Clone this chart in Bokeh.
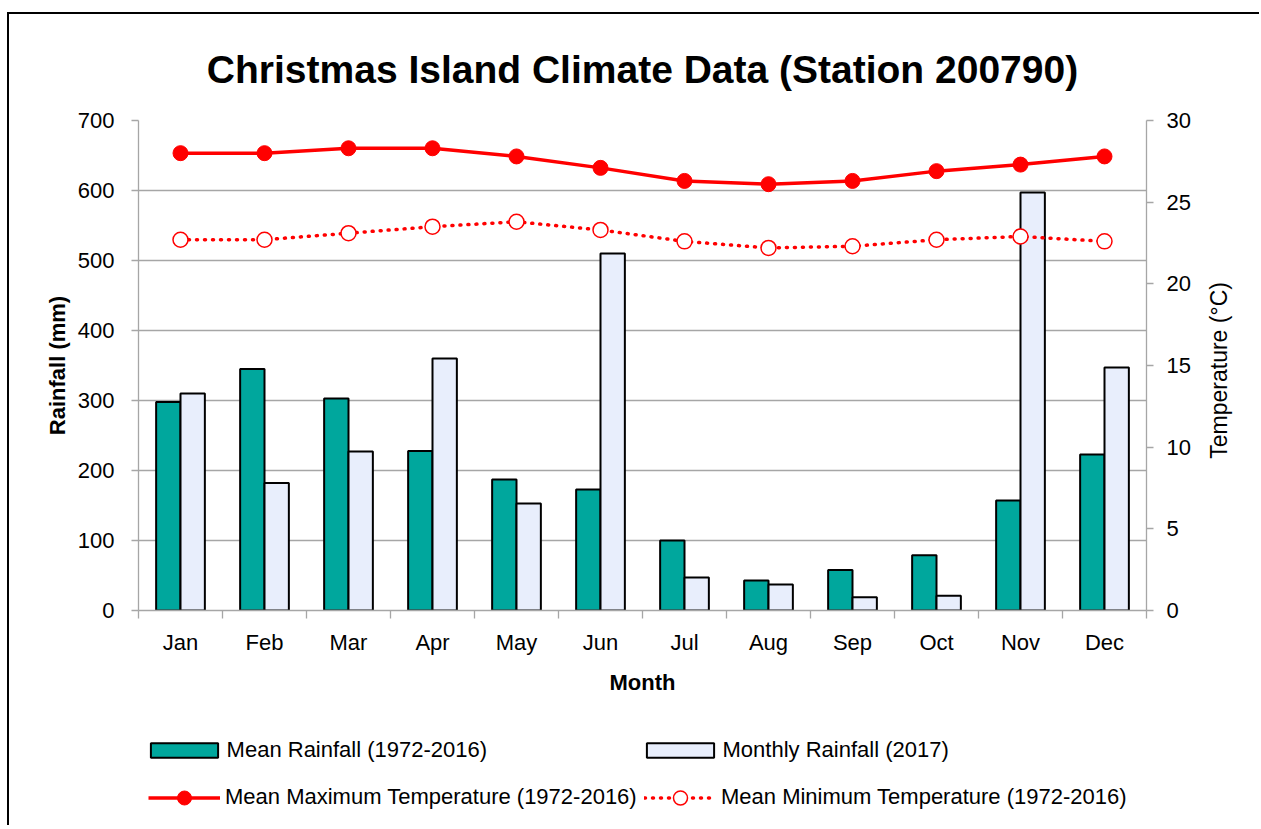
import math
from bokeh.plotting import figure
from bokeh.layouts import column, row
from bokeh.models import (Range1d, LinearAxis, FixedTicker, Legend, LegendItem, Label, ColumnDataSource)
from bokeh.embed import file_html
from bokeh.resources import INLINE

months = ["Jan", "Feb", "Mar", "Apr", "May", "Jun", "Jul", "Aug", "Sep", "Oct", "Nov", "Dec"]
mean_rain = [298, 345, 303, 228, 187, 173, 100, 43, 58, 79, 157, 223]
rain_2017 = [310, 182, 227, 360, 153, 510, 47, 37, 19, 21, 597, 347]
mean_max = [28.0, 28.0, 28.3, 28.3, 27.8, 27.1, 26.3, 26.1, 26.3, 26.9, 27.3, 27.8]
mean_min = [22.7, 22.7, 23.1, 23.5, 23.8, 23.3, 22.6, 22.2, 22.3, 22.7, 22.9, 22.6]
rain_ticks = [0, 100, 200, 300, 400, 500, 600, 700]
temp_ticks = [0, 5, 10, 15, 20, 25, 30]

FONT = "Liberation Sans"
GRID = "#a6a6a6"
TEAL = "#00A79D"
LIGHT = "#E8EEFC"
RED = "#FF0000"

xs = list(range(1, 13))
bw = 0.29
src = ColumnDataSource(dict(
    x=xs,
    x_mean=[x - bw / 2 for x in xs],
    x_2017=[x + bw / 2 for x in xs],
    mean_rain=mean_rain,
    rain_2017=rain_2017,
    mean_max=mean_max,
    mean_min=mean_min,
))

W = 1250
WR = 63
TOP, BOT = 106, 95
p = figure(width=W - WR, height=691, output_backend="svg", toolbar_location=None,
           x_range=Range1d(0.5, 12.5), y_range=Range1d(0, 700),
           min_border_left=129, min_border_right=W - WR - 129 - 1008,
           min_border_top=TOP, min_border_bottom=BOT,
           title="Christmas Island Climate Data (Station 200790)")
p.outline_line_color = None
p.background_fill_color = "white"
p.border_fill_color = "white"
p.title.align = "center"
p.title.text_font = FONT
p.title.text_font_size = "39px"
p.title.text_font_style = "bold"
p.title.text_color = "black"
p.title.standoff = 60

p.extra_y_ranges = {"temp": Range1d(0, 30)}

# grid
p.xgrid.visible = False
p.ygrid.grid_line_color = GRID
p.ygrid.grid_line_width = 1.3
p.ygrid.ticker = FixedTicker(ticks=rain_ticks)

# x axis
xax = p.xaxis[0]
xax.ticker = FixedTicker(ticks=xs, minor_ticks=[x + 0.5 for x in range(0, 13)])
xax.major_label_overrides = {i + 1: m for i, m in enumerate(months)}
xax.major_tick_line_color = None
xax.major_tick_out = 0
xax.major_tick_in = 0
xax.minor_tick_out = 8
xax.minor_tick_in = 0
xax.minor_tick_line_color = GRID
xax.minor_tick_line_width = 1.3
xax.axis_line_color = GRID
xax.axis_line_width = 1.3
xax.major_label_text_font = FONT
xax.major_label_text_font_size = "22px"
xax.major_label_text_color = "black"
xax.major_label_standoff = 11
xax.axis_label = "Month"
xax.axis_label_text_font = FONT
xax.axis_label_text_font_style = "bold"
xax.axis_label_text_font_size = "22px"
xax.axis_label_text_color = "black"
xax.axis_label_standoff = 12

# left axis
yax = p.yaxis[0]
yax.ticker = FixedTicker(ticks=rain_ticks)
yax.minor_tick_line_color = None
yax.major_tick_out = 7
yax.major_tick_in = 0
yax.major_tick_line_color = GRID
yax.major_tick_line_width = 1.3
yax.axis_line_color = GRID
yax.axis_line_width = 1.3
yax.major_label_text_font = FONT
yax.major_label_text_font_size = "22px"
yax.major_label_text_color = "black"
yax.major_label_standoff = 17
yax.axis_label = "Rainfall (mm)"
yax.axis_label_text_font = FONT
yax.axis_label_text_font_style = "bold"
yax.axis_label_text_font_size = "22px"
yax.axis_label_text_color = "black"
yax.axis_label_standoff = 5

# right axis (ticks + labels)
rax = LinearAxis(y_range_name="temp", ticker=FixedTicker(ticks=temp_ticks))
rax.minor_tick_line_color = None
rax.major_tick_out = 7
rax.major_tick_in = 0
rax.major_tick_line_color = GRID
rax.major_tick_line_width = 1.3
rax.axis_line_color = GRID
rax.axis_line_width = 1.3
rax.major_label_text_font = FONT
rax.major_label_text_font_size = "22px"
rax.major_label_text_color = "black"
rax.major_label_standoff = 13
p.add_layout(rax, "right")

# bars
p.vbar(x="x_mean", top="mean_rain", bottom=0, width=bw, source=src,
       fill_color=TEAL, line_color="black", line_width=2)
p.vbar(x="x_2017", top="rain_2017", bottom=0, width=bw, source=src,
       fill_color=LIGHT, line_color="black", line_width=2)

# temperature lines
p.line(x="x", y="mean_max", source=src, y_range_name="temp",
       line_color=RED, line_width=3.5)
p.scatter(x="x", y="mean_max", source=src, y_range_name="temp",
          size=15, marker="circle", fill_color=RED, line_color=RED)
p.line(x="x", y="mean_min", source=src, y_range_name="temp",
       line_color=RED, line_width=3.5, line_dash="1 7", line_cap="round")
p.scatter(x="x", y="mean_min", source=src, y_range_name="temp",
          size=15, marker="circle", fill_color="white", line_color=RED, line_width=1.5)

# right-hand title strip: "Temperature (°C)" reading bottom-to-top
r = figure(width=WR, height=691, output_backend="svg", toolbar_location=None,
           x_range=Range1d(0, 1), y_range=Range1d(0, 1),
           x_axis_type=None, y_axis_type=None,
           min_border_left=0, min_border_right=0, min_border_top=TOP, min_border_bottom=BOT)
r.outline_line_color = None
r.xgrid.visible = False
r.ygrid.visible = False
r.border_fill_color = "white"
r.add_layout(Label(x=0.35, y=0.49, text="Temperature (°C)", angle=math.pi / 2,
                   text_align="center", text_baseline="middle",
                   text_font=FONT, text_font_size="23px", text_color="black"))

# legend strip (separate figure so the legend is not clipped)
q = figure(width=W, height=120, output_backend="svg", toolbar_location=None,
           x_range=Range1d(0, 1), y_range=Range1d(0, 1),
           x_axis_type=None, y_axis_type=None,
           min_border_left=129, min_border_right=W - 129 - 1008,
           min_border_top=0, min_border_bottom=0)
q.outline_line_color = None
q.xgrid.visible = False
q.ygrid.visible = False
q.border_fill_color = "white"

nan = float("nan")
g1 = q.vbar(x=[nan], top=[nan], width=0.1, fill_color=TEAL, line_color="black", line_width=2)
g2 = q.vbar(x=[nan], top=[nan], width=0.1, fill_color=LIGHT, line_color="black", line_width=2)
g3 = q.line(x=[nan], y=[nan], line_color=RED, line_width=3.5)
g4 = q.scatter(x=[nan], y=[nan], size=15, marker="circle", fill_color=RED, line_color=RED)
g5 = q.line(x=[nan], y=[nan], line_color=RED, line_width=3.5, line_dash="1 7", line_cap="round")
g6 = q.scatter(x=[nan], y=[nan], size=15, marker="circle", fill_color="white", line_color=RED, line_width=1.5)

def one_legend(label, renderers, x, y, gw, gh, standoff):
    return Legend(items=[LegendItem(label=label, renderers=renderers)],
                  location=(x, y), orientation="vertical",
                  glyph_width=gw, glyph_height=gh, label_height=26,
                  label_standoff=standoff, spacing=0, padding=0, margin=0,
                  border_line_color=None, background_fill_alpha=0,
                  label_text_font=FONT, label_text_font_size="22px",
                  label_text_color="black")

q.add_layout(one_legend("Mean Rainfall (1972-2016)", [g1], 3.6, 62, 84, 18, 1), "center")
q.add_layout(one_legend("Monthly Rainfall (2017)", [g2], 499.5, 62, 84, 18, 1), "center")
q.add_layout(one_legend("Mean Maximum Temperature (1972-2016)", [g3, g4], 10, 10.5, 72, 35, 5), "center")
q.add_layout(one_legend("Mean Minimum Temperature (1972-2016)", [g5, g6], 506, 10.5, 72, 35, 5), "center")

layout = column(row(p, r, spacing=0), q, spacing=0)
layout.styles = {"margin-left": "7px", "margin-top": "12px",
                 "border-left": "2px solid #000000", "border-top": "2px solid #000000"}

open("out.html", "w").write(file_html(layout, INLINE))
